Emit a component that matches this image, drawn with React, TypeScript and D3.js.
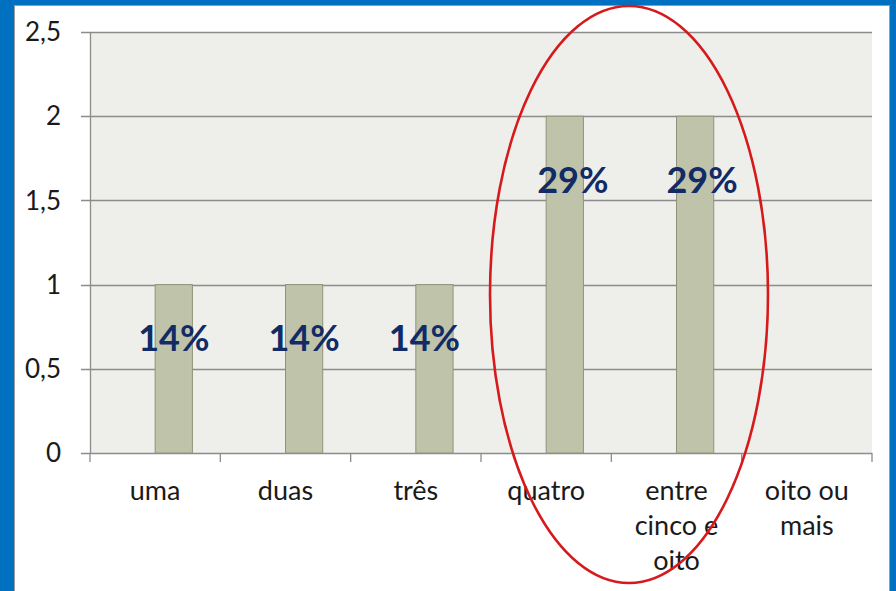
import React from "react";
import * as d3 from "d3";

const categories = ["uma", "duas", "três", "quatro", "entre cinco e oito", "oito ou mais"];
const categoryLines = [["uma"], ["duas"], ["três"], ["quatro"], ["entre", "cinco e", "oito"], ["oito ou", "mais"]];
const values = [1, 1, 1, 2, 2, 0];
const percentLabels = ["14%", "14%", "14%", "29%", "29%", ""];
const yTicks = [0, 0.5, 1, 1.5, 2, 2.5];
const seriesKeys = ["vazio", "quantidade"];

const W = 896;
const H = 591;
const plot = { left: 90, right: 872, top: 32, bottom: 453 };
const labelDx = [0, 0, -10, 8, 7];
const labelDy = [66, 66, 66, 77, 77];
const FONT = "Lato, 'Open Sans', sans-serif";

export default function App() {
  const x = d3.scaleBand<string>().domain(categories).range([plot.left, plot.right]).padding(0);
  const xs = d3.scaleBand<string>().domain(seriesKeys).range([0, x.bandwidth()]).paddingInner(0).paddingOuter(0.75);
  const y = d3.scaleLinear().domain([0, 2.5]).range([plot.bottom, plot.top]);
  const fmt = (v: number) => d3.format("")(v).replace(".", ",");
  const boundaries = categories.map((c) => x(c)!).concat([plot.right]);

  return (
    <div style={{ position: "fixed", left: 0, top: 0, width: W, height: H }}>
      <svg width={W} height={H} style={{ display: "block" }}>
        <rect x={0} y={0} width={W} height={H} fill="#0070C0" />
        <rect x={14.5} y={5.5} width={875} height={H} fill="#FFFFFF" stroke="#9A9A9A" strokeWidth={1} />
        <rect x={plot.left} y={plot.top} width={plot.right - plot.left} height={plot.bottom - plot.top} fill="#EEEEEA" />
        {yTicks.map((t) => (
          <g key={t}>
            <line x1={81} x2={plot.right} y1={Math.round(y(t)) + 0.5} y2={Math.round(y(t)) + 0.5} stroke="#8C8C8C" strokeWidth={1.3} />
            <text x={61} y={y(t)} dy="0.35em" textAnchor="end" fontFamily={FONT} fontSize={26} fill="#1A1A1A">
              {fmt(t)}
            </text>
          </g>
        ))}
        <line x1={plot.left + 0.5} x2={plot.left + 0.5} y1={plot.top} y2={plot.bottom} stroke="#8C8C8C" strokeWidth={1.3} />
        {boundaries.map((b, i) => (
          <line key={i} x1={b} x2={b} y1={plot.bottom} y2={plot.bottom + 9} stroke="#8C8C8C" strokeWidth={1.3} />
        ))}
        {values.map((v, i) =>
          v > 0 ? (
            <rect
              key={i}
              x={x(categories[i])! + xs("quantidade")!}
              y={y(v)}
              width={xs.bandwidth()}
              height={y(0) - y(v)}
              fill="#BFC3A9"
              stroke="#8F937A"
              strokeWidth={1}
            />
          ) : null
        )}
        {percentLabels.map((l, i) =>
          l ? (
            <text
              key={i}
              x={x(categories[i])! + xs("quantidade")! + xs.bandwidth() / 2 + labelDx[i]}
              y={y(values[i]) + labelDy[i]}
              textAnchor="middle"
              fontFamily={FONT}
              fontWeight="bold"
              fontSize={36}
              fill="#112B66"
            >
              {l}
            </text>
          ) : null
        )}
        {categoryLines.map((lines, i) => (
          <text key={i} textAnchor="middle" fontFamily={FONT} fontSize={27} fill="#1A1A1A">
            {lines.map((ln, j) => (
              <tspan key={j} x={x(categories[i])! + x.bandwidth() / 2} y={500 + j * 35}>
                {ln}
              </tspan>
            ))}
          </text>
        ))}
        <ellipse cx={629} cy={294.5} rx={139} ry={288.5} fill="none" stroke="#D7191C" strokeWidth={2.6} />
      </svg>
    </div>
  );
}
